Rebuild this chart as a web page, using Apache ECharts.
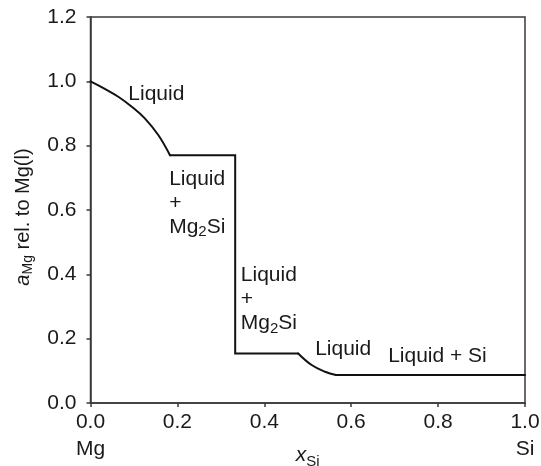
<!DOCTYPE html>
<html>
<head>
<meta charset="utf-8">
<script src="https://cdn.jsdelivr.net/npm/echarts@6/dist/echarts.min.js"></script>
<style>html,body{margin:0;padding:0;background:#fff}#c{width:541px;height:466px}</style>
</head>
<body>
<div id="c"></div>
<script>
// Data
var xSi = [0, 0.034, 0.064, 0.095, 0.125, 0.156, 0.183, 0.333, 0.333, 0.478, 0.509, 0.540, 0.565, 1.0];
var aMg = [1.0, 0.976, 0.952, 0.921, 0.885, 0.833, 0.770, 0.770, 0.154, 0.154, 0.118, 0.097, 0.087, 0.087];
var xTicks = ['0.0', '0.2', '0.4', '0.6', '0.8', '1.0'];
var yTicks = ['0.0', '0.2', '0.4', '0.6', '0.8', '1.0', '1.2'];
var annX = [0.087, 0.181, 0.346, 0.517, 0.685];
var annY = [0.961, 0.622, 0.322, 0.166, 0.146];
var annText = ['Liquid', 'Liquid\n+\nMg{sub|2}Si', 'Liquid\n+\nMg{sub|2}Si', 'Liquid', 'Liquid + Si'];

var FONT = 'Liberation Sans';
var TXT = '#1a1a1a';
var AX = '#3a3a3a';

var line = xSi.map(function (x, i) { return [x, aMg[i]]; });
// curved parts (smoothed) and straight steps share end points
var seg1 = line.slice(0, 7);
var seg2 = line.slice(6, 10);
var seg3 = line.slice(9, 13);
var seg4 = line.slice(12);
var ann = annX.map(function (x, i) { return [x, annY[i], annText[i]]; });

function lineSeries(d, smooth) {
  return {
    type: 'line', data: d, showSymbol: false, symbol: 'none', smooth: smooth,
    lineStyle: { color: '#111', width: 2, cap: 'round', join: 'miter' }, z: 3
  };
}

var chart = echarts.init(document.getElementById('c'), null, { renderer: 'canvas' });
chart.setOption({
  animation: false,
  textStyle: { fontFamily: FONT },
  grid: { left: 90.5, right: 16, top: 17, bottom: 63, containLabel: false, outerBoundsMode: 'none', show: true, borderColor: AX, borderWidth: 1.5, backgroundColor: 'transparent' },
  xAxis: {
    type: 'value', min: 0, max: 1, interval: 0.2,
    axisLine: { show: true, lineStyle: { color: AX, width: 1.5 } },
    axisTick: { show: true, length: 4, lineStyle: { color: AX, width: 1.5 } },
    splitLine: { show: false },
    axisLabel: {
      margin: 6, color: TXT, fontSize: 21, fontFamily: FONT, lineHeight: 27,
      formatter: function (v) {
        var s = xTicks[Math.round(v / 0.2)];
        if (Math.abs(v) < 1e-9) return s + '\nMg';
        if (Math.abs(v - 1) < 1e-9) return s + '\nSi';
        return s;
      }
    },
    name: '{it|x}{sub|Si}', nameLocation: 'middle', nameGap: 39, nameMoveOverlap: false,
    nameTextStyle: {
      rich: {
        it: { fontStyle: 'italic', fontSize: 21, fontFamily: FONT, color: TXT },
        sub: { fontSize: 15, fontFamily: FONT, color: TXT, padding: [12, 0, 0, 0] }
      }
    }
  },
  yAxis: {
    type: 'value', min: 0, max: 1.2, interval: 0.2,
    axisLine: { show: true, lineStyle: { color: AX, width: 1.5 } },
    axisTick: { show: true, length: 4, lineStyle: { color: AX, width: 1.5 } },
    splitLine: { show: false },
    axisLabel: {
      margin: 14, color: TXT, fontSize: 21, fontFamily: FONT,
      formatter: function (v) { return yTicks[Math.round(v / 0.2)]; }
    },
    name: '{it|a}{sub|Mg}{n| rel. to Mg(l)}', nameLocation: 'middle', nameGap: 55, nameMoveOverlap: false,
    nameTextStyle: {
      padding: [0, 14, 0, 0],
      rich: {
        it: { fontStyle: 'italic', fontSize: 20, fontFamily: FONT, color: TXT },
        sub: { fontSize: 14, fontFamily: FONT, color: TXT, padding: [10, 0, 0, 0] },
        n: { fontSize: 20, fontFamily: FONT, color: TXT }
      }
    }
  },
  series: [
    lineSeries(seg1, 0.4),
    lineSeries(seg2, false),
    lineSeries(seg3, 0.4),
    lineSeries(seg4, false),
    {
      type: 'scatter', data: ann, symbolSize: 0, silent: true,
      itemStyle: { color: TXT, opacity: 1 },
      label: {
        show: true, position: 'right', distance: 0,
        formatter: function (p) { return p.data[2]; },
        color: TXT, textBorderWidth: 0, opacity: 1, fontSize: 21, fontFamily: FONT, lineHeight: 24, align: 'left',
        rich: {
          sub: { fontSize: 15, fontFamily: FONT, color: TXT, padding: [10, 0, 0, 0], lineHeight: 24 }
        }
      }
    }
  ]
});
</script>
</body>
</html>
